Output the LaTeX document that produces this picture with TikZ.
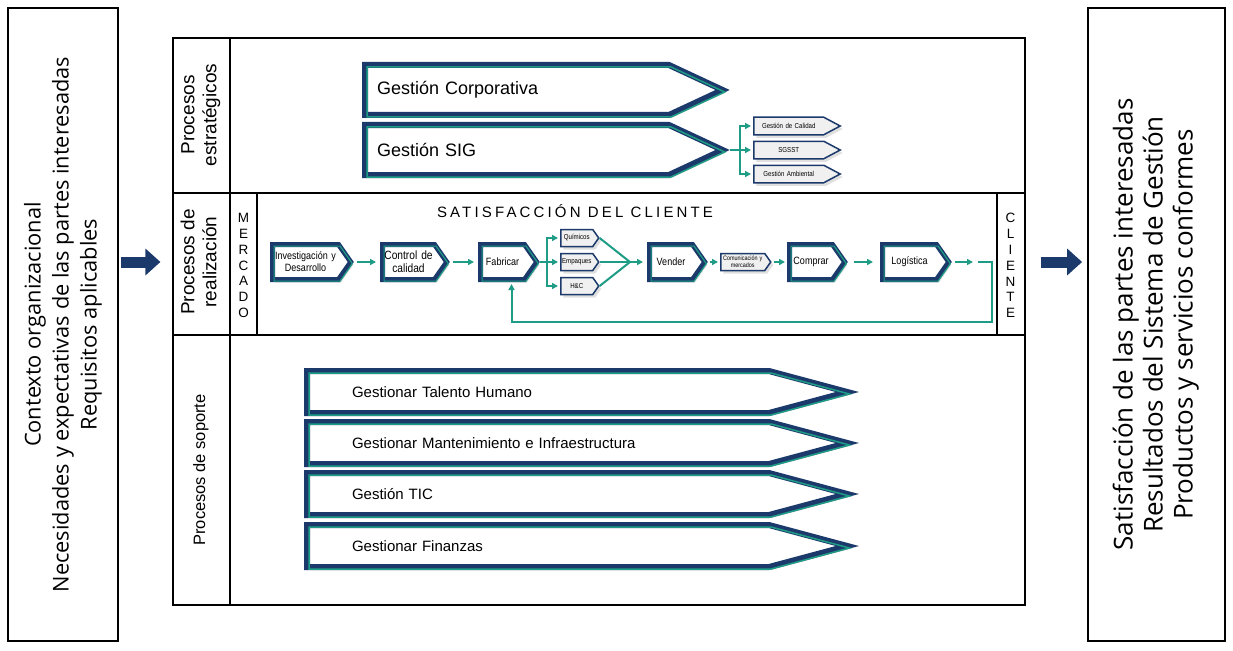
\documentclass[tikz,border=0pt]{standalone}
\usepackage{fontspec}
\usepackage{graphicx}
\setmainfont{Liberation Sans}
\newfontfamily\sidefont{Open Sans}
\newfontfamily\narrow[FakeStretch=0.85]{Liberation Sans}
\usetikzlibrary{shapes.symbols, arrows.meta}

\definecolor{navy}{HTML}{1B3A6B}
\definecolor{tealg}{HTML}{1E9C86}

\tikzset{
  chev/.style={
    signal, signal to=east, draw=navy, fill=white,
    preaction={fill=black!12, transform canvas={shift={(2.5pt,-3pt)}}},
    align=center
  },
  estr/.style={
    chev, signal pointer angle=50, line width=6pt,
    postaction={draw=tealg, line width=1.5pt, transform canvas={shift={(2pt,-2pt)}}},
    minimum height=50pt, inner xsep=12pt, text width=280pt, align=left,
    font=\fontsize{18}{20}\selectfont
  },
  sop/.style={
    estr, signal pointer angle=30, minimum height=42pt,
    inner xsep=45pt, text width=372pt, font=\fontsize{15}{18}\selectfont
  },
  proc/.style={
    chev, signal pointer angle=110, line width=5pt,
    postaction={draw=tealg, line width=1.2pt, transform canvas={shift={(1.6pt,-1.6pt)}}},
    minimum height=35pt, inner xsep=0pt, inner ysep=1pt,
    font=\narrow\fontsize{10.6}{12}\selectfont
  },
  sub/.style={
    chev, signal pointer angle=110, line width=1.5pt, fill=gray!12,
    minimum height=17pt, inner xsep=0pt, inner ysep=1pt, text width=32pt,
    font=\narrow\fontsize{7.2}{7.5}\selectfont
  },
  sigsub/.style={
    sub, signal pointer angle=56, minimum height=17.5pt,
    text width=70pt, font=\narrow\fontsize{7.2}{8}\selectfont
  },
  sidebox/.style={draw, line width=1.8pt, minimum width=110pt, minimum height=633pt, inner sep=0pt},
  rowlabel/.style={inner sep=0pt, font=\fontsize{19}{22}\selectfont}
}
\tikzstyle{flow} = [-{Triangle[length=6pt,width=6pt]}, draw=tealg, line width=2pt, shorten >=2pt]
\tikzstyle{link} = [draw=tealg, line width=2pt]
\tikzstyle{bigarrow} = [-{Triangle[length=15pt,width=26pt]}, draw=navy, line width=11pt]
\def\vtext#1{\rotatebox{90}{\begin{tabular}{@{}c@{}}#1\end{tabular}}}

\begin{document}
\begin{tikzpicture}[x=1pt, y=-1pt]
  \useasboundingbox (0,0) rectangle (1233,650);

  % entradas y salidas
  \node[sidebox, font=\sidefont\fontsize{21.8}{28}\selectfont] (ctx) at (63,324.5)
    {\vtext{Contexto organizacional\\Necesidades y expectativas de las partes interesadas\\Requisitos aplicables}};
  \node[sidebox, minimum width=137pt, font=\sidefont\fontsize{26}{30}\selectfont] (res) at (1156.5,324.5)
    {\vtext{Satisfacción de las partes interesadas\\Resultados del Sistema de Gestión\\Productos y servicios conformes}};

  % marco del mapa
  \node[draw, line width=1.2pt, minimum width=852pt, minimum height=567pt, inner sep=0pt] (main) at (599,321.5) {};
  \draw[line width=1.2pt] (230,38) -- (230,605)
    (173,193) -- (1025,193)
    (173,335) -- (1025,335)
    (257,193) -- (257,335)
    (997,193) -- (997,335);

  \node[rowlabel] (lest) at (201,115) {\vtext{Procesos\\estratégicos}};
  \node[rowlabel] (lrea) at (201,262) {\vtext{Procesos de\\realización}};
  \node[rowlabel, font=\fontsize{16.5}{20}\selectfont] (lsop) at (201,470) {\vtext{Procesos de soporte}};

  \node[align=center, font=\fontsize{13.5}{15.8}\selectfont] (merc) at (243.5,265.5) {M\\E\\R\\C\\A\\D\\O};
  \node[align=center, font=\fontsize{13.5}{15.8}\selectfont] (cli) at (1010.5,265.5) {C\\L\\I\\E\\N\\T\\E};
  \node[font=\fontsize{15}{18}\selectfont\addfontfeatures{LetterSpace=21}] (sat) at (575,211) {SATISFACCIÓN DEL CLIENTE};

  \draw[bigarrow, shorten <=2pt, shorten >=12pt] (ctx.east |- lrea) -- (main.west |- lrea);
  \draw[bigarrow, shorten <=15pt, shorten >=5pt] (main.east |- lrea) -- (res.west |- lrea);

  % estrategicos
  \node[estr, anchor=west] (corp) at (362,90) {Gestión Corporativa};
  \node[estr, anchor=west] (sig) at (362,150) {Gestión SIG};
  \node[sigsub, anchor=west] (cal) at (753,126) {Gestión de Calidad};
  \node[sigsub, anchor=west] (sgsst) at (753,150) {SGSST};
  \node[sigsub, anchor=west] (amb) at (753,174) {Gestión Ambiental};
  \coordinate (sigbus) at (740,150);
  \draw[link] (sig.east) -- (sigbus);
  \draw[flow] (sigbus) |- (cal.west);
  \draw[flow] (sigbus) -- (sgsst.west);
  \draw[flow] (sigbus) |- (amb.west);

  % realizacion
  \node[proc, anchor=west, text width=66pt] (inv) at (270,262) {Investigación y\\Desarrollo};
  \node[proc, anchor=west, text width=52pt, font=\narrow\fontsize{12}{13}\selectfont] (ctrl) at (380,262) {Control de\\calidad};
  \node[proc, anchor=west, text width=44pt] (fab) at (478,262) {Fabricar};
  \node[sub, anchor=west] (qui) at (560,238) {Químicos};
  \node[sub, anchor=west] (emp) at (560,262) {Empaques};
  \node[sub, anchor=west] (hyc) at (560,286) {H\&C};
  \node[proc, anchor=west, text width=43pt] (ven) at (647,262) {Vender};
  \node[sub, anchor=west, text width=44pt, font=\narrow\fontsize{6.4}{6.8}\selectfont] (com) at (720,262) {Comunicación y\\mercados};
  \node[proc, anchor=west, text width=43pt] (comp) at (787,262) {Comprar};
  \node[proc, anchor=west, text width=54pt] (log) at (880,262) {Logística};

  \coordinate (bus) at (547,262);
  \coordinate (join) at (630,262);
  \coordinate (fin) at (975,262);
  \coordinate (ret) at (978,262);
  \coordinate (ret2) at (992,322);

  \draw[flow, shorten <=3pt, shorten >=4pt] (inv.east) -- (ctrl.west);
  \draw[flow, shorten <=3pt, shorten >=4pt] (ctrl.east) -- (fab.west);
  \draw[link] (fab.east) -- (bus);
  \draw[flow] (bus) |- (qui.west);
  \draw[flow] (bus) -- (emp.west);
  \draw[flow] (bus) |- (hyc.west);
  \draw[link] (qui.east) -- (join);
  \draw[link] (emp.east) -- (join);
  \draw[link] (hyc.east) -- (join);
  \draw[flow, shorten >=4pt] (join) -- (ven.west);
  \draw[flow, shorten <=2pt] (ven.east) -- (com.west);
  \draw[flow, shorten <=2pt] (com.east) -- (comp.west);
  \draw[flow, shorten <=6pt, shorten >=7pt] (comp.east) -- (log.west);
  \draw[flow, shorten <=3pt] (log.east) -- (fin);
  \draw[flow] (ret) -| (ret2) -| ([xshift=9pt]fab.south);

  % soporte
  \node[sop, anchor=west] (th) at (304,392) {Gestionar Talento Humano};
  \node[sop, anchor=west] (mi) at (304,443) {Gestionar Mantenimiento e Infraestructura};
  \node[sop, anchor=west] (tic) at (304,494) {Gestión TIC};
  \node[sop, anchor=west] (fz) at (304,546) {Gestionar Finanzas};
\end{tikzpicture}
\end{document}
